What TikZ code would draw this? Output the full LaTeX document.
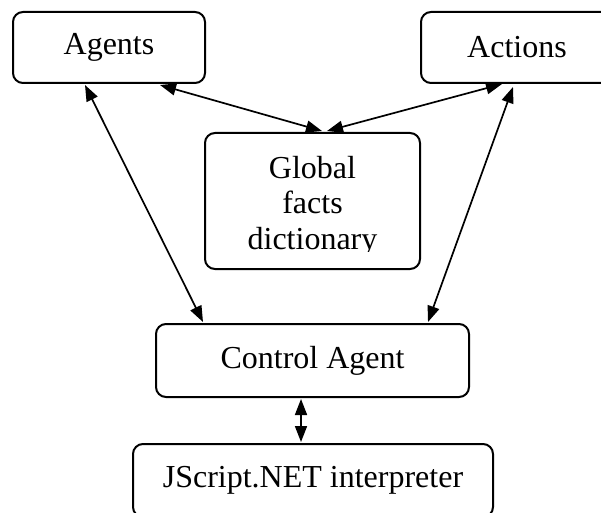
\documentclass[tikz,border=0pt]{standalone}
\usepackage{fontspec}
\setmainfont{Liberation Serif}
\usetikzlibrary{arrows.meta,calc}
\begin{document}
\begin{tikzpicture}[x=1pt,y=1pt,
  box/.style={draw, line width=2pt, rounded corners=10pt, inner sep=0pt,
    font=\fontsize{32}{36}\selectfont},
  link/.style={line width=1.7pt, {Triangle[length=16pt,width=12pt]}-{Triangle[length=16pt,width=12pt]}}
]
\clip (0,0) rectangle (601,512);
\fill[white] (0,0) rectangle (601,512);
% boxes (image y measured downwards: tikz y = 512 - y)
\node[box, minimum width=192pt, minimum height=71pt] (agents) at (109,464.5) {Agents};
\node[box, minimum width=192pt, minimum height=71pt] (actions) at (517,464.5) {Actions};
\node[box, minimum width=215pt, minimum height=136pt] (global) at (312.5,311) {};
\node[box, minimum width=313pt, minimum height=73pt] (control) at (312.5,151.5) {Control Agent};
\node[box, minimum width=360pt, minimum height=73pt] (jscript) at (313,31.5) {\raisebox{3pt}{JScript.NET interpreter}};
\begin{scope}
\clip (205,261) rectangle (420,380);
\node[font=\fontsize{32}{35.5}\selectfont, align=center, inner sep=0pt, anchor=north] (globaltext) at (312.5,356) {Global\\facts\\dictionary};
\end{scope}
% connectors
\draw[link] ($(agents.south)+(-24,-1)$) -- ($(control.north)+(-109.5,1)$);
\draw[link] ($(agents.south)+(51,-1)$) -- ($(global.north)+(9.5,1)$);
\draw[link] ($(actions.south west)+(82,0)$) -- ($(global.north)+(14.5,1)$);
\draw[link] ($(actions.south west)+(93,-3)$) -- ($(control.north)+(115.5,1)$);
\draw[link] ($(control.south)+(-11.5,-1)$) -- ($(jscript.north)+(-12,1)$);
\end{tikzpicture}
\end{document}
